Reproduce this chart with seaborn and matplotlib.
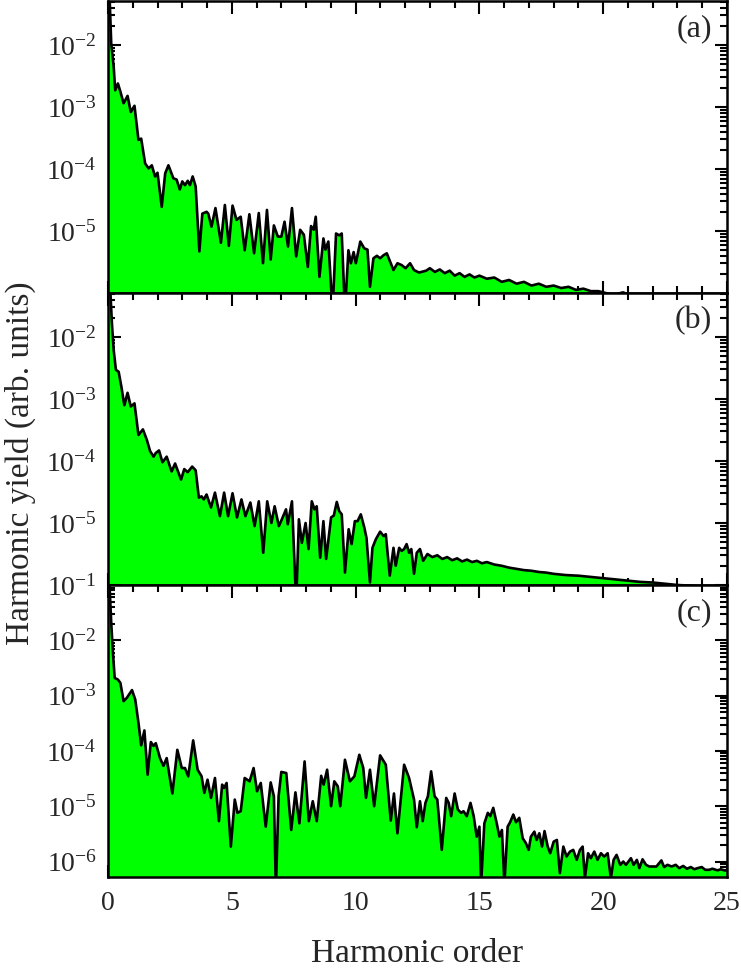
import matplotlib
matplotlib.use("Agg")  # headless backend before pyplot
import matplotlib.pyplot as plt
import matplotlib.ticker as mticker
import numpy as np
import pandas as pd
import seaborn as sns

# ── data (x = harmonic order, log10 of yield) ─────────────────────────────────
a_x = [
    0.00, 0.13, 0.23, 0.29, 0.40, 0.50, 0.63, 0.79, 0.92, 1.07,
    1.23, 1.34, 1.50, 1.64, 1.77, 1.90, 2.00, 2.17, 2.31, 2.44,
    2.64, 2.77, 2.90, 3.00, 3.11, 3.22, 3.31, 3.42, 3.54, 3.69,
    3.81, 3.98, 4.05, 4.18, 4.34, 4.56, 4.72, 4.88, 5.03, 5.19,
    5.36, 5.52, 5.71, 5.90, 6.09, 6.26, 6.42, 6.57, 6.70, 6.86,
    7.00, 7.13, 7.27, 7.43, 7.60, 7.76, 7.91, 8.07, 8.20, 8.31,
    8.39, 8.54, 8.70, 8.78, 8.90, 9.07, 9.21, 9.34, 9.44, 9.57,
    9.71, 9.81, 9.92, 10.01, 10.19, 10.35, 10.48, 10.58, 10.72, 10.86,
    10.99, 11.13, 11.26, 11.39, 11.53, 11.69, 11.86, 12.02, 12.20, 12.36,
    12.56, 12.85, 13.00, 13.20, 13.40, 13.60, 13.80, 14.00, 14.20, 14.40,
    14.60, 14.80, 15.00, 15.30, 15.60, 15.90, 16.20, 16.50, 16.80, 17.10,
    17.40, 17.70, 18.00, 18.30, 18.60, 18.90, 19.20, 19.50, 19.80, 20.10,
    20.40, 20.80, 21.20, 22.00, 23.00, 24.00, 25.00]
a_log = [
    -0.50, -1.97, -2.35, -2.73, -2.62, -2.75, -2.94, -2.82, -3.08, -2.98,
    -3.53, -3.51, -3.91, -3.99, -3.94, -4.12, -4.06, -4.61, -4.07, -3.94,
    -4.15, -4.17, -4.33, -4.20, -4.26, -4.19, -4.26, -4.12, -4.28, -5.33,
    -4.72, -4.69, -4.72, -4.93, -4.63, -5.19, -4.58, -5.24, -4.59, -4.82,
    -4.77, -5.31, -4.73, -5.36, -4.71, -5.52, -4.66, -5.46, -4.91, -5.09,
    -5.09, -4.85, -5.25, -4.63, -5.41, -4.98, -5.06, -5.58, -4.92, -4.98,
    -4.77, -5.74, -5.12, -5.30, -5.17, -6.30, -5.04, -5.07, -5.04, -6.30,
    -5.31, -5.52, -5.34, -5.52, -5.17, -5.28, -5.30, -5.90, -5.44, -5.40,
    -5.44, -5.39, -5.36, -5.49, -5.63, -5.52, -5.55, -5.60, -5.52, -5.63,
    -5.67, -5.64, -5.60, -5.66, -5.62, -5.68, -5.64, -5.72, -5.68, -5.74,
    -5.70, -5.75, -5.72, -5.77, -5.75, -5.82, -5.79, -5.85, -5.82, -5.88,
    -5.85, -5.90, -5.88, -5.92, -5.90, -5.95, -5.93, -5.97, -5.97, -6.00,
    -6.03, -5.99, -6.05, -6.10, -6.15, -6.20, -6.25]

b_x = [
    0.00, 0.16, 0.23, 0.32, 0.43, 0.54, 0.66, 0.79, 0.92, 1.07,
    1.23, 1.41, 1.57, 1.70, 1.84, 1.93, 2.06, 2.20, 2.37, 2.57,
    2.71, 2.95, 3.08, 3.22, 3.40, 3.54, 3.67, 3.78, 3.87, 3.98,
    4.16, 4.32, 4.52, 4.69, 4.85, 5.03, 5.21, 5.39, 5.55, 5.75,
    5.92, 6.09, 6.27, 6.43, 6.60, 6.73, 6.90, 6.99, 7.19, 7.26,
    7.43, 7.60, 7.71, 7.83, 7.98, 8.10, 8.23, 8.34, 8.43, 8.57,
    8.70, 8.81, 9.01, 9.12, 9.24, 9.34, 9.44, 9.57, 9.72, 9.84,
    9.97, 10.08, 10.21, 10.35, 10.44, 10.58, 10.68, 10.82, 10.99, 11.13,
    11.22, 11.38, 11.53, 11.62, 11.76, 11.86, 11.96, 12.06, 12.16, 12.25,
    12.36, 12.47, 12.60, 12.73, 12.90, 13.10, 13.30, 13.50, 13.70, 13.90,
    14.10, 14.30, 14.50, 14.70, 14.90, 15.10, 15.30, 15.60, 15.90, 16.20,
    16.50, 16.80, 17.10, 17.40, 17.70, 18.00, 18.50, 19.00, 19.50, 20.00,
    20.50, 21.00, 21.50, 22.00, 22.50, 23.00, 23.50, 24.00, 25.00]
b_log = [
    -0.50, -1.79, -2.21, -2.53, -2.56, -2.80, -3.10, -2.90, -3.12, -3.07,
    -3.58, -3.49, -3.66, -3.84, -3.93, -3.87, -3.83, -4.02, -3.93, -4.17,
    -4.04, -4.30, -4.13, -4.18, -4.09, -4.15, -4.59, -4.57, -4.62, -4.54,
    -4.75, -4.51, -4.89, -4.51, -4.89, -4.52, -4.91, -4.62, -4.89, -4.67,
    -5.05, -4.65, -5.48, -4.65, -5.00, -4.73, -5.05, -4.97, -4.78, -5.02,
    -4.65, -6.30, -4.94, -5.32, -5.00, -5.42, -4.65, -4.78, -4.73, -5.56,
    -4.97, -5.58, -4.91, -4.88, -4.66, -4.81, -4.86, -5.80, -5.10, -5.34,
    -4.97, -4.97, -4.86, -5.07, -5.24, -5.96, -5.40, -5.26, -5.14, -5.21,
    -5.18, -5.85, -5.40, -5.69, -5.40, -5.45, -5.42, -5.34, -5.48, -5.42,
    -5.82, -5.48, -5.42, -5.61, -5.50, -5.55, -5.52, -5.58, -5.55, -5.60,
    -5.57, -5.62, -5.59, -5.63, -5.61, -5.65, -5.63, -5.67, -5.69, -5.72,
    -5.74, -5.76, -5.77, -5.79, -5.80, -5.82, -5.84, -5.85, -5.87, -5.89,
    -5.91, -5.93, -5.95, -5.96, -5.98, -6.00, -6.01, -6.03, -6.06]

c_x = [
    0.00, 0.13, 0.19, 0.27, 0.40, 0.50, 0.63, 0.76, 0.97, 1.10,
    1.23, 1.34, 1.47, 1.60, 1.73, 1.84, 1.93, 2.10, 2.24, 2.37,
    2.60, 2.80, 2.98, 3.11, 3.24, 3.44, 3.62, 3.78, 3.89, 4.02,
    4.16, 4.32, 4.48, 4.61, 4.69, 4.79, 4.96, 5.12, 5.23, 5.36,
    5.52, 5.72, 5.88, 6.02, 6.17, 6.37, 6.57, 6.70, 6.78, 6.89,
    7.00, 7.20, 7.40, 7.57, 7.73, 7.94, 8.11, 8.27, 8.43, 8.61,
    8.71, 8.85, 9.01, 9.14, 9.28, 9.38, 9.57, 9.77, 9.95, 10.15,
    10.31, 10.42, 10.58, 10.75, 10.99, 11.22, 11.42, 11.55, 11.69, 11.96,
    12.16, 12.36, 12.47, 12.60, 12.71, 12.82, 12.92, 13.05, 13.19, 13.30,
    13.48, 13.66, 13.76, 13.86, 14.00, 14.13, 14.26, 14.36, 14.49, 14.64,
    14.77, 14.89, 15.00, 15.07, 15.20, 15.34, 15.44, 15.56, 15.70, 15.81,
    15.91, 16.01, 16.14, 16.24, 16.37, 16.48, 16.61, 16.75, 16.88, 16.99,
    17.08, 17.22, 17.31, 17.42, 17.53, 17.63, 17.76, 17.86, 18.00, 18.13,
    18.25, 18.39, 18.52, 18.66, 18.79, 18.93, 19.06, 19.17, 19.26, 19.39,
    19.50, 19.64, 19.77, 19.91, 20.04, 20.18, 20.31, 20.42, 20.54, 20.69,
    20.81, 20.92, 21.12, 21.23, 21.36, 21.46, 21.59, 21.73, 21.86, 22.00,
    22.15, 22.35, 22.46, 22.60, 22.76, 22.93, 23.07, 23.23, 23.38, 23.54,
    23.68, 23.81, 23.98, 24.12, 24.28, 24.41, 24.62, 24.75, 24.89, 25.00]
c_log = [
    -0.40, -1.68, -2.16, -2.68, -2.71, -2.77, -3.10, -3.04, -2.90, -3.07,
    -3.49, -3.90, -3.63, -4.43, -3.84, -3.91, -3.86, -4.13, -4.27, -4.13,
    -4.77, -3.98, -4.31, -4.31, -4.46, -3.81, -4.34, -4.46, -4.76, -4.52,
    -4.85, -4.49, -5.27, -4.61, -4.67, -4.58, -5.73, -4.88, -5.12, -5.09,
    -4.49, -4.55, -4.31, -4.73, -4.58, -5.37, -4.57, -4.82, -6.50, -4.82,
    -4.38, -4.40, -5.43, -4.75, -5.31, -4.19, -5.27, -4.91, -5.27, -4.45,
    -4.61, -4.34, -5.00, -4.55, -4.64, -5.00, -4.16, -4.55, -4.46, -4.07,
    -4.31, -4.85, -4.34, -5.00, -4.08, -4.25, -5.26, -4.77, -5.49, -4.25,
    -4.49, -4.88, -5.38, -4.91, -5.27, -4.94, -4.82, -4.37, -4.82, -4.88,
    -5.79, -4.85, -4.94, -5.18, -4.77, -5.06, -5.12, -5.09, -5.18, -4.94,
    -5.18, -5.55, -5.37, -6.40, -5.31, -5.12, -5.18, -5.03, -5.31, -5.55,
    -5.43, -6.40, -5.37, -5.29, -5.15, -5.29, -5.21, -5.58, -5.67, -5.79,
    -5.55, -5.46, -5.61, -5.49, -5.73, -5.45, -5.73, -5.85, -5.64, -5.61,
    -6.21, -5.73, -5.91, -5.82, -5.79, -5.97, -5.79, -5.73, -6.30, -5.85,
    -5.94, -5.82, -5.97, -5.85, -5.91, -5.85, -6.30, -5.97, -5.88, -6.06,
    -6.00, -6.06, -5.94, -6.06, -5.97, -6.12, -5.96, -6.06, -6.09, -6.09,
    -6.09, -5.98, -6.10, -6.06, -6.09, -6.06, -6.12, -6.08, -6.13, -6.10,
    -6.14, -6.12, -6.10, -6.15, -6.15, -6.13, -6.16, -6.14, -6.16, -6.16]

panel_tags = ["(a)", "(b)", "(c)"]
panel_ylims = [(1e-6, 10 ** -1.29), (1e-6, 10 ** -1.29), (10 ** -6.28, 1e-1)]
panel_yticks = [
    [1e-2, 1e-3, 1e-4, 1e-5],
    [1e-2, 1e-3, 1e-4, 1e-5],
    [1e-1, 1e-2, 1e-3, 1e-4, 1e-5, 1e-6],
]

GREEN = "#00ff00"

sns.set_theme(style="ticks")
plt.rcParams["font.family"] = ["Liberation Serif", "DejaVu Serif"]
plt.rcParams["mathtext.default"] = "regular"


def decade_label(v, _pos):
    return r"$10^{%d}$" % round(np.log10(v))


def draw_panel(ax, xs, logs, ylim, yticks, tag, show_x):
    df = pd.DataFrame({"order": xs, "yield": 10.0 ** np.asarray(logs)})
    ax.fill_between(df["order"], df["yield"], 1e-12, color=GREEN, lw=0,
                    zorder=1)
    sns.lineplot(data=df, x="order", y="yield", ax=ax, color="black",
                 lw=1.9, estimator=None, sort=False, zorder=2)
    ax.set_yscale("log")
    ax.set_xlim(0, 25)
    ax.set_ylim(*ylim)
    ax.set(xlabel="", ylabel="")

    ax.xaxis.set_major_locator(mticker.MultipleLocator(5))
    ax.xaxis.set_minor_locator(mticker.MultipleLocator(1))
    ax.yaxis.set_major_locator(mticker.FixedLocator(yticks))
    ax.yaxis.set_major_formatter(mticker.FuncFormatter(decade_label))
    ax.yaxis.set_minor_locator(
        mticker.LogLocator(base=10, subs=np.arange(2, 10), numticks=20))
    ax.yaxis.set_minor_formatter(mticker.NullFormatter())

    ax.tick_params(which="both", direction="in", top=True, right=True,
                   width=1.5, color="black", labelsize=20, pad=8)
    ax.tick_params(which="major", length=9)
    ax.tick_params(which="minor", length=5)
    ax.tick_params(axis="x", labelbottom=show_x, pad=10)
    for sp in ax.spines.values():
        sp.set_linewidth(1.8)
        sp.set_color("black")

    ax.text(0.976, 0.905, tag, transform=ax.transAxes, ha="right",
            va="center", fontsize=23)


fig = plt.figure(figsize=(7.41, 9.69), dpi=100)
left, width, height = 108 / 741, 619 / 741, 292 / 969
bottoms = [1 - 293 / 969, 1 - 585 / 969, 1 - 877 / 969]
series = [(a_x, a_log), (b_x, b_log), (c_x, c_log)]

for i, (xs, logs) in enumerate(series):
    ax = fig.add_axes([left, bottoms[i], width, height])
    draw_panel(ax, xs, logs, panel_ylims[i], panel_yticks[i],
               panel_tags[i], show_x=(i == 2))

fig.text(0.5634, 0.016, "Harmonic order", ha="center", va="center",
         fontsize=24)
fig.text(0.027, 0.522, "Harmonic yield (arb. units)", rotation=90,
         ha="center", va="center", fontsize=24)

fig.savefig("out.png", dpi=100)
